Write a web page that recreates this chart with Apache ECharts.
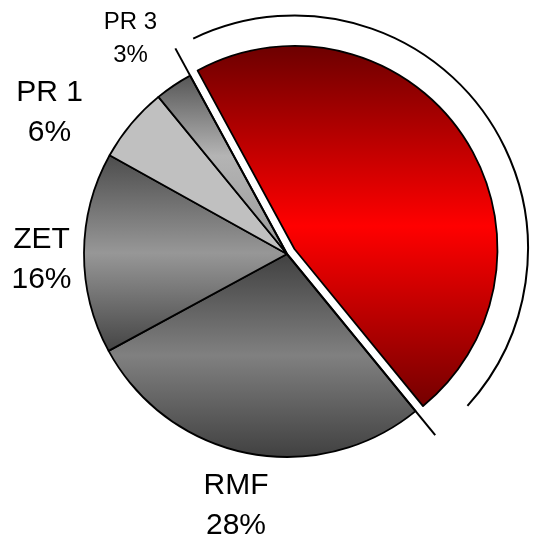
<!DOCTYPE html>
<html>
<head>
<meta charset="utf-8">
<style>
  html, body { margin: 0; padding: 0; background: #fff; }
  #chart { width: 533px; height: 539px; }
</style>
<script src="https://cdn.jsdelivr.net/npm/echarts@6/dist/echarts.min.js"></script>
</head>
<body>
<div id="chart"></div>
<script>
// Shares of the pie, in percent
const categories = ['Main', 'RMF', 'ZET', 'PR 1', 'PR 3'];
const shares = [47, 28, 16, 6, 3];
const labelled = [false, true, true, true, true];

// Geometry of the pie (pixels / degrees)
const CX = 287, CY = 254, R = 203;
const START_ANGLE = 118.5;   // upper edge of the first slice
const POP_OUT = 9;           // offset of the highlighted slice
const GUIDE_LEN = 234;       // radial guide lines beside the highlighted slice
const ARC_R = 233.5;         // bracket arc around the highlighted slice
const ARC_INSET = [2.8, 8.5];

// Text boxes of the outside labels (centre of each two-line block)
const labelSpots = {
  'PR 3': [130.5, 38.5],
  'PR 1': [49.5, 113],
  'ZET': [41.5, 259.5],
  'RMF': [236, 506]
};

const FONT = '"Liberation Sans", Arial, Helvetica, sans-serif';

function vGrad(stops) {
  return new echarts.graphic.LinearGradient(0, 0, 0, 1,
    stops.map(s => ({ offset: s[0], color: s[1] })));
}

const fills = [
  vGrad([[0, '#6c0000'], [0.5, '#ff0000'], [1, '#740000']]),
  vGrad([[0, '#404040'], [0.5, '#808080'], [1, '#404040']]),
  vGrad([[0, '#4c4c4c'], [0.5, '#979797'], [1, '#444444']]),
  '#c0c0c0',
  vGrad([[0, '#555555'], [0.45, '#b4b4b4'], [1, '#9a9a9a']])
];

const total = shares.reduce((a, b) => a + b, 0);
const sweep = shares[0] / total * 360;
const edgeA = START_ANGLE;          // math angle, counter-clockwise from +x
const edgeB = START_ANGLE - sweep;
const mid = (edgeA + edgeB) / 2;
const rad = d => d * Math.PI / 180;
const popCx = CX + POP_OUT * Math.cos(rad(mid));
const popCy = CY - POP_OUT * Math.sin(rad(mid));

function radialPoint(cx, cy, r, deg) {
  return [cx + r * Math.cos(rad(deg)), cy - r * Math.sin(rad(deg))];
}

const data = categories.map((name, i) => {
  const big = name !== 'PR 3';
  return {
    name: name,
    value: shares[i],
    selected: i === 0,
    itemStyle: { color: fills[i] },
    label: labelled[i] ? {
      show: true,
      fontSize: big ? 30 : 24,
      lineHeight: big ? 40 : 33
    } : { show: false }
  };
});

const pA = radialPoint(CX, CY, GUIDE_LEN, edgeA);
const pB = radialPoint(CX, CY, GUIDE_LEN, edgeB);

const chart = echarts.init(document.getElementById('chart'), null, { renderer: 'canvas' });
chart.setOption({
  animation: false,
  backgroundColor: '#ffffff',
  series: [{
    type: 'pie',
    center: [CX, CY],
    radius: [0, R],
    startAngle: START_ANGLE,
    clockwise: true,
    selectedMode: 'single',
    selectedOffset: POP_OUT,
    avoidLabelOverlap: false,
    silent: true,
    itemStyle: { borderColor: '#000', borderWidth: 1.8 },
    select: { itemStyle: { borderColor: '#000', borderWidth: 1.8 } },
    emphasis: { disabled: true },
    label: {
      position: 'outside',
      formatter: '{b}\n{c}%',
      color: '#000',
      fontFamily: FONT,
      align: 'center'
    },
    labelLine: { show: false },
    labelLayout: function (params) {
      const spot = labelSpots[categories[params.dataIndex]];
      if (!spot) return {};
      return { x: spot[0], y: spot[1], align: 'center', verticalAlign: 'middle' };
    },
    data: data
  }],
  graphic: [
    {
      type: 'line', silent: true, z: 10,
      shape: { x1: CX, y1: CY, x2: pA[0], y2: pA[1] },
      style: { stroke: '#000', lineWidth: 2 }
    },
    {
      type: 'line', silent: true, z: 10,
      shape: { x1: CX, y1: CY, x2: pB[0], y2: pB[1] },
      style: { stroke: '#000', lineWidth: 2 }
    },
    {
      type: 'arc', silent: true, z: 10,
      shape: {
        cx: popCx, cy: popCy, r: ARC_R,
        startAngle: rad(-(edgeA - ARC_INSET[0])),
        endAngle: rad(-(edgeB + ARC_INSET[1])),
        clockwise: true
      },
      style: { stroke: '#000', lineWidth: 2, fill: null }
    }
  ]
});
</script>
</body>
</html>
